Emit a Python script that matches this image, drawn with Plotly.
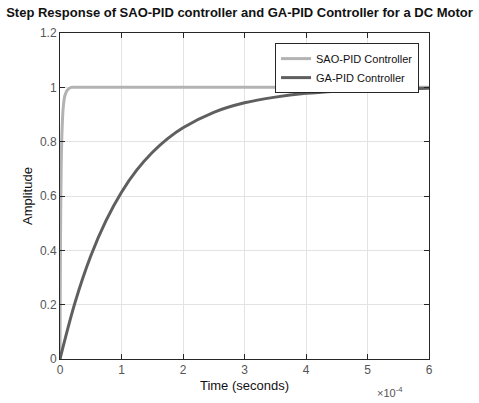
import plotly.graph_objects as go

# time in units of 1e-4 s
t_sao = [0, 0.005, 0.01, 0.02, 0.03, 0.05, 0.08, 0.12, 0.18, 0.3, 1, 2, 3, 4, 5, 6]
y_sao = [0, 0.30, 0.50, 0.72, 0.82, 0.92, 0.97, 0.99, 1.0, 1.0, 1.0, 1.0, 1.0, 1.0, 1.0, 1.0]

t_ga = [0, 0.25, 0.5, 0.75, 1.0, 1.25, 1.5, 1.75, 2.0, 2.5, 3.0, 3.5, 4.0, 4.5, 5.0, 5.5, 6.0]
y_ga = [0, 0.212, 0.379, 0.510, 0.614, 0.696, 0.760, 0.811, 0.851, 0.908, 0.943, 0.964,
        0.978, 0.986, 0.991, 0.995, 0.997]

x_ticks = [0, 1, 2, 3, 4, 5, 6]
y_ticks = [0, 0.2, 0.4, 0.6, 0.8, 1, 1.2]
y_ticktext = ["0", "0.2", "0.4", "0.6", "0.8", "1", "1.2"]

FONT = "Liberation Sans, Arial"

fig = go.Figure()
fig.add_trace(go.Scatter(x=t_sao, y=y_sao, mode="lines", name="SAO-PID Controller",
                         line=dict(color="#b3b3b3", width=3, shape="spline", smoothing=0.6)))
fig.add_trace(go.Scatter(x=t_ga, y=y_ga, mode="lines", name="GA-PID Controller",
                         line=dict(color="#5f5f5f", width=3, shape="spline")))

axis_common = dict(showline=True, linecolor="#262626", linewidth=1, mirror="allticks",
                   ticks="inside", ticklen=5, tickcolor="#262626",
                   showgrid=True, gridcolor="#e3e3e3", gridwidth=1, zeroline=False,
                   tickfont=dict(family=FONT, size=12, color="#555555"))

fig.update_layout(
    width=479, height=403,
    margin=dict(l=60, r=50, t=33, b=44),
    paper_bgcolor="white", plot_bgcolor="white",
    title=dict(text="<b>Step Response of SAO-PID controller and GA-PID Controller for a DC Motor</b>",
               x=0.5, xanchor="center", y=0.97, yanchor="middle",
               font=dict(family=FONT, size=13, color="#111111")),
    xaxis=dict(range=[0, 6], tickvals=x_ticks,
               title=dict(text="Time (seconds)", standoff=4,
                          font=dict(family=FONT, size=13, color="#111111")),
               **axis_common),
    yaxis=dict(range=[0, 1.2], tickvals=y_ticks, ticktext=y_ticktext,
               title=dict(text="Amplitude", standoff=4,
                          font=dict(family=FONT, size=13, color="#111111")),
               **axis_common),
    legend=dict(x=0.973, y=0.969, xanchor="right", yanchor="top",
                bgcolor="white", bordercolor="#262626", borderwidth=1,
                font=dict(family=FONT, size=11, color="#111111"),
                tracegroupgap=0, itemwidth=30),
    showlegend=True,
)
fig.add_annotation(text="×10<sup>-4</sup>", xref="paper", yref="paper", x=0.935, y=-0.075,
                   xanchor="right", yanchor="top", showarrow=False,
                   font=dict(family=FONT, size=11, color="#555555"))

fig.write_html("out.html")
